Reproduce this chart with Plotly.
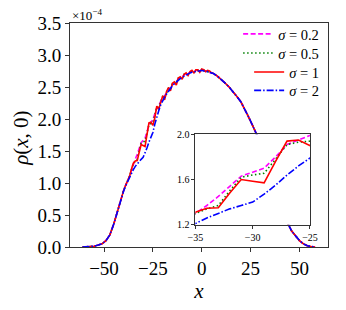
import plotly.graph_objects as go

# ---- data (density in units of 1e-4) ----
x_left = [-61, -59, -57, -55, -53, -51, -49, -47, -45, -43]
y_left = [0.0, 0.001, 0.004, 0.012, 0.03, 0.05, 0.10, 0.19, 0.36, 0.58]

x_mid = list(range(-42, 7))
y_s02_mid = [0.69, 0.79, 0.88, 0.96, 1.03, 1.10, 1.20, 1.30, 1.37, 1.45, 1.54, 1.63, 1.665,
             1.70, 1.80, 1.91, 1.95, 1.99, 2.08, 2.17, 2.21, 2.28, 2.34, 2.36, 2.42, 2.47,
             2.49, 2.54, 2.57, 2.58, 2.63, 2.65, 2.66, 2.69, 2.71, 2.71, 2.73, 2.75, 2.74,
             2.76, 2.76, 2.75, 2.77, 2.76, 2.75, 2.75, 2.74, 2.72, 2.71]
y_s05_mid = [0.69, 0.79, 0.88, 0.96, 1.03, 1.10, 1.20, 1.30, 1.34, 1.37, 1.50, 1.62, 1.64,
             1.655, 1.78, 1.91, 1.93, 1.94, 2.06, 2.18, 2.18, 2.28, 2.35, 2.33, 2.42, 2.48,
             2.46, 2.55, 2.57, 2.55, 2.64, 2.65, 2.64, 2.70, 2.71, 2.70, 2.73, 2.75, 2.73,
             2.76, 2.76, 2.74, 2.77, 2.76, 2.75, 2.75, 2.74, 2.72, 2.71]
y_s1_mid = [0.69, 0.79, 0.88, 0.96, 1.03, 1.10, 1.21, 1.31, 1.345, 1.35, 1.48, 1.60, 1.585,
            1.57, 1.76, 1.94, 1.95, 1.90, 2.02, 2.20, 2.15, 2.28, 2.36, 2.30, 2.43, 2.49,
            2.44, 2.56, 2.58, 2.53, 2.64, 2.66, 2.62, 2.70, 2.72, 2.68, 2.74, 2.76, 2.72,
            2.77, 2.77, 2.73, 2.78, 2.77, 2.74, 2.76, 2.75, 2.72, 2.71]
y_s2_mid = [0.68, 0.78, 0.87, 0.95, 1.02, 1.08, 1.15, 1.21, 1.26, 1.30, 1.34, 1.37, 1.40,
            1.47, 1.55, 1.64, 1.72, 1.79, 1.92, 2.04, 2.13, 2.22, 2.29, 2.34, 2.39, 2.44,
            2.48, 2.52, 2.55, 2.58, 2.61, 2.63, 2.65, 2.67, 2.69, 2.70, 2.72, 2.73, 2.74,
            2.75, 2.75, 2.75, 2.76, 2.75, 2.75, 2.74, 2.73, 2.72, 2.71]

x_right = [8, 10, 12, 14, 16, 18, 20, 22, 24, 26, 28, 30, 32, 34, 36, 38, 40, 42, 44, 46,
           48, 50, 52, 54, 56, 58]
y_right = [2.67, 2.62, 2.56, 2.50, 2.43, 2.35, 2.27, 2.16, 2.03, 1.90, 1.77, 1.63, 1.48,
           1.32, 1.15, 0.97, 0.78, 0.57, 0.37, 0.25, 0.17, 0.10, 0.05, 0.02, 0.007, 0.0]

labels = ["<i>σ</i> = 0.2", "<i>σ</i> = 0.5", "<i>σ</i> = 1", "<i>σ</i> = 2"]
mids = [y_s02_mid, y_s05_mid, y_s1_mid, y_s2_mid]
colors = ["#ff00ff", "#008000", "#ff0000", "#0000ff"]
dashes = ["5px,2.5px", "1.5px,2.5px", "solid", "7px,2px,1.5px,2px"]

x_ticks = [-50, -25, 0, 25, 50]
x_ticktext = ["−50", "−25", "0", "25", "50"]
y_ticks = [0, 0.5, 1.0, 1.5, 2.0, 2.5, 3.0, 3.5]
y_ticktext = ["0.0", "0.5", "1.0", "1.5", "2.0", "2.5", "3.0", "3.5"]
ix_ticks = [-35, -30, -25]
ix_ticktext = ["−35", "−30", "−25"]
iy_ticks = [1.2, 1.6, 2.0]
iy_ticktext = ["1.2", "1.6", "2.0"]

FONT = "Liberation Serif, Times New Roman, DejaVu Serif, serif"
AX = "#333333"

legend_ids = ["legend", "legend2", "legend3", "legend4"]
legend_rows = [0.951, 0.866, 0.781, 0.699]

fig = go.Figure()
xs = x_left + x_mid + x_right
for lab, mid, c, d, lg in zip(labels, mids, colors, dashes, legend_ids):
    ys = y_left + mid + y_right
    fig.add_trace(go.Scatter(x=xs, y=ys, mode="lines", name=lab, legend=lg,
                             line=dict(color=c, width=1.6, dash=d),
                             xaxis="x", yaxis="y"))
for lab, mid, c, d in zip(labels, mids, colors, dashes):
    ys = y_left + mid + y_right
    fig.add_trace(go.Scatter(x=xs, y=ys, mode="lines", name=lab, showlegend=False,
                             line=dict(color=c, width=1.6, dash=d),
                             xaxis="x2", yaxis="y2"))

legend_layout = {}
for lg, yr in zip(legend_ids, legend_rows):
    legend_layout[lg] = dict(x=0.985, y=yr, xanchor="right", yanchor="middle",
                             bgcolor="rgba(0,0,0,0)", font=dict(size=14.5, family=FONT),
                             itemwidth=30)

fig.update_layout(
    width=346, height=310,
    margin=dict(l=70, r=10, t=23, b=63),
    paper_bgcolor="white", plot_bgcolor="white",
    font=dict(family=FONT, color="black"),
    showlegend=True,
    **legend_layout,
    xaxis=dict(range=[-67.4, 64.6], tickvals=x_ticks, ticktext=x_ticktext,
               showline=True, mirror=True, linecolor=AX, linewidth=1,
               ticks="outside", ticklen=4, tickcolor=AX, showgrid=False, zeroline=False,
               tickfont=dict(size=19, family=FONT), domain=[0, 1],
               title=dict(text="<i>x</i>", font=dict(size=21, family=FONT), standoff=1)),
    yaxis=dict(range=[0, 3.5], tickvals=y_ticks, ticktext=y_ticktext,
               showline=True, mirror=True, linecolor=AX, linewidth=1,
               ticks="outside", ticklen=4, tickcolor=AX, showgrid=False, zeroline=False,
               tickfont=dict(size=19, family=FONT), domain=[0, 1]),
    xaxis2=dict(range=[-35, -25], tickvals=ix_ticks, ticktext=ix_ticktext,
                domain=[0.486, 0.930], anchor="y2",
                showline=True, mirror=True, linecolor=AX, linewidth=1,
                ticks="outside", ticklen=3, tickcolor=AX, showgrid=False, zeroline=False,
                tickfont=dict(size=10, family=FONT)),
    yaxis2=dict(range=[1.2, 2.0], tickvals=iy_ticks, ticktext=iy_ticktext,
                domain=[0.0996, 0.503], anchor="x2",
                showline=True, mirror=True, linecolor=AX, linewidth=1,
                ticks="outside", ticklen=3, tickcolor=AX, showgrid=False, zeroline=False,
                tickfont=dict(size=10, family=FONT)),
    annotations=[
        dict(text="×10<sup>−4</sup>", x=0.0, y=1.0, xref="paper", yref="paper",
             xanchor="left", yanchor="bottom", showarrow=False,
             font=dict(size=13, family=FONT), xshift=0, yshift=-2),
        dict(text="<i>ρ</i>(<i>x</i>, 0)", x=-0.188, y=0.485, xref="paper", yref="paper",
             xanchor="center", yanchor="middle", showarrow=False, textangle=-90,
             font=dict(size=21, family=FONT)),
    ],
)

fig.write_html("out.html", config={"displayModeBar": False},
               post_script="document.body.style.margin='0px';")
